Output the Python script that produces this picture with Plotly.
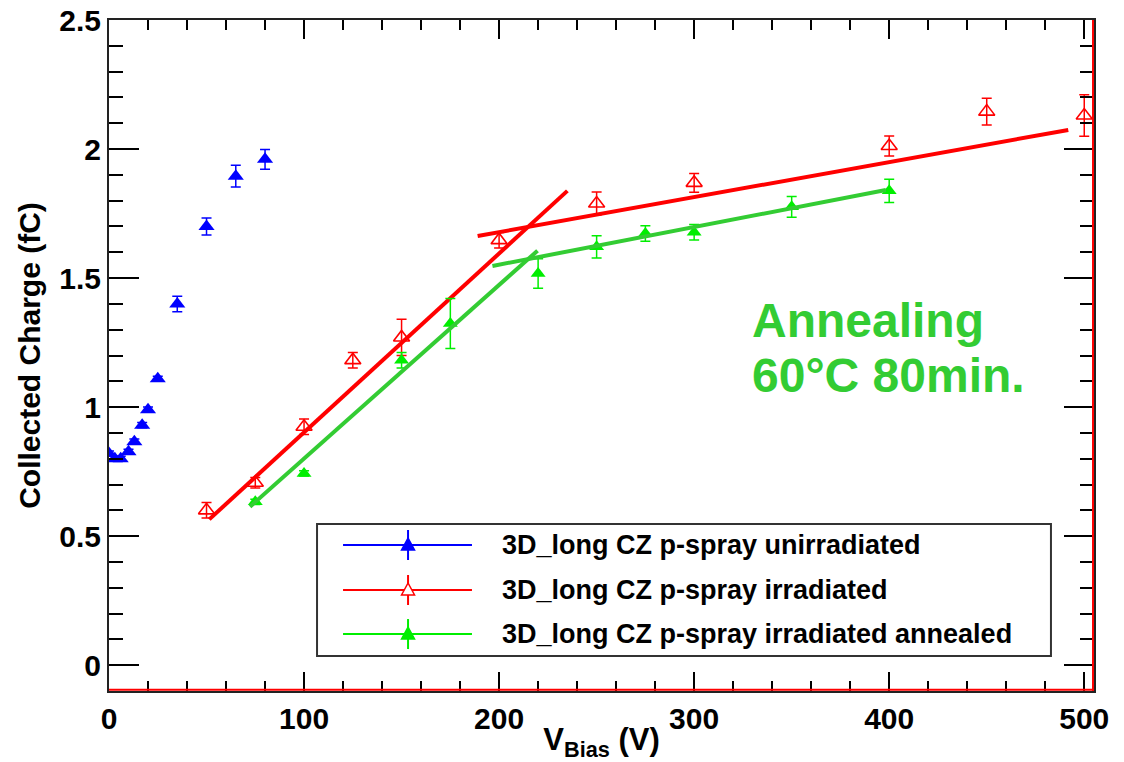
import plotly.graph_objects as go

# ---------------- data ----------------
# unirradiated (blue, filled triangles)
v_unirr = [0, 3, 6, 10, 13, 17, 20, 25, 35, 50, 65, 80]
q_unirr = [0.82, 0.80, 0.80, 0.827, 0.866, 0.93, 0.99, 1.11, 1.40, 1.70, 1.895, 1.96]
e_unirr = [0.01, 0.01, 0.01, 0.01, 0.01, 0.01, 0.01, 0.01, 0.03, 0.033, 0.042, 0.038]

# irradiated (red, open triangles)
v_irr = [50, 75, 100, 125, 150, 200, 250, 300, 400, 450, 500]
q_irr = [0.60, 0.707, 0.924, 1.182, 1.27, 1.647, 1.789, 1.869, 2.012, 2.145, 2.13]
e_irr = [0.03, 0.02, 0.03, 0.03, 0.07, 0.03, 0.045, 0.036, 0.039, 0.052, 0.08]

# irradiated annealed (green, filled triangles)
v_ann = [75, 100, 150, 175, 220, 250, 275, 300, 350, 400]
q_ann = [0.633, 0.743, 1.182, 1.324, 1.518, 1.621, 1.673, 1.678, 1.776, 1.838]
e_ann = [0.01, 0.01, 0.03, 0.097, 0.057, 0.043, 0.03, 0.03, 0.04, 0.045]

# linear fits (end points)
fit_irr_steep_v = [51.4, 235.0]
fit_irr_steep_q = [0.565, 1.838]
fit_irr_flat_v = [189.0, 491.8]
fit_irr_flat_q = [1.663, 2.074]
fit_ann_steep_v = [72.3, 219.7]
fit_ann_steep_q = [0.614, 1.606]
fit_ann_flat_v = [196.6, 398.3]
fit_ann_flat_q = [1.547, 1.841]

legend_labels = [
    "3D_long CZ p-spray unirradiated",
    "3D_long CZ p-spray irradiated",
    "3D_long CZ p-spray irradiated annealed",
]

BLUE = "#0000ff"
RED = "#ff0000"
GREEN_PT = "#00ee00"
GREEN_FIT = "#33cc33"
FONT = "Liberation Sans"

fig = go.Figure()

fig.add_trace(go.Scatter(
    x=v_unirr, y=q_unirr, mode="markers",
    marker=dict(symbol="triangle-up", size=14, color=BLUE),
    error_y=dict(type="data", array=e_unirr, color=BLUE, thickness=1.5, width=5),
    showlegend=False))

fig.add_trace(go.Scatter(
    x=v_irr, y=q_irr, mode="markers",
    marker=dict(symbol="triangle-up-open", size=14, color=RED, line=dict(width=1.6, color=RED)),
    error_y=dict(type="data", array=e_irr, color=RED, thickness=1.5, width=5),
    showlegend=False))

for fv, fq in [(fit_irr_steep_v, fit_irr_steep_q), (fit_irr_flat_v, fit_irr_flat_q)]:
    fig.add_trace(go.Scatter(x=fv, y=fq, mode="lines",
                             line=dict(color=RED, width=4), showlegend=False))

fig.add_trace(go.Scatter(
    x=v_ann, y=q_ann, mode="markers",
    marker=dict(symbol="triangle-up", size=13, color=GREEN_PT),
    error_y=dict(type="data", array=e_ann, color=GREEN_PT, thickness=1.5, width=5),
    showlegend=False))

for fv, fq in [(fit_ann_steep_v, fit_ann_steep_q), (fit_ann_flat_v, fit_ann_flat_q)]:
    fig.add_trace(go.Scatter(x=fv, y=fq, mode="lines",
                             line=dict(color=GREEN_FIT, width=4), showlegend=False))

# ---------------- custom legend box ----------------
W_PLOT = 985.0
H_PLOT = 671.0
shapes = []
annotations = []
shapes.append(dict(type="rect", xref="paper", yref="paper",
                   x0=0.2112, x1=0.9563, y0=0.0522, y1=0.2489,
                   line=dict(color="#333333", width=2), fillcolor="white", layer="above"))
entry_y = [0.2176, 0.1505, 0.0849]
entry_col = [BLUE, RED, GREEN_PT]
entry_open = [False, True, False]
lx0, lx1, mx = 0.2376, 0.3685, 0.3036
dx = 6.5 / W_PLOT
dyu = 7.0 / H_PLOT
dyd = 5.0 / H_PLOT
for yy, col, op, lab in zip(entry_y, entry_col, entry_open, legend_labels):
    shapes.append(dict(type="line", xref="paper", yref="paper", x0=lx0, x1=lx1, y0=yy, y1=yy,
                       line=dict(color=col, width=2), layer="above"))
    shapes.append(dict(type="line", xref="paper", yref="paper", x0=mx, x1=mx,
                       y0=yy - 15 / H_PLOT, y1=yy + 15 / H_PLOT,
                       line=dict(color=col, width=2), layer="above"))
    path = "M {a},{b} L {c},{b} L {m},{t} Z".format(a=mx - dx, c=mx + dx, b=yy - dyd, m=mx, t=yy + dyu)
    shapes.append(dict(type="path", xref="paper", yref="paper", path=path,
                       fillcolor=("white" if op else col),
                       line=dict(color=col, width=1.5), layer="above"))
    annotations.append(dict(xref="paper", yref="paper", x=0.397, y=yy, text=lab,
                            showarrow=False, xanchor="left", yanchor="middle",
                            font=dict(family=FONT, size=27, color="black", weight="bold")))

# red frame lines (bottom and right)
shapes.append(dict(type="line", xref="paper", yref="paper", x0=0, x1=1, y0=0.002, y1=0.002,
                   line=dict(color=RED, width=2), layer="above"))
shapes.append(dict(type="line", xref="paper", yref="paper", x0=0.999, x1=0.999, y0=0, y1=1,
                   line=dict(color=RED, width=2), layer="above"))

# annealing text
annotations.append(dict(xref="paper", yref="paper", x=0.6508, y=0.5523, text="Annealing",
                        showarrow=False, xanchor="left", yanchor="middle",
                        font=dict(family=FONT, size=48, color=GREEN_FIT, weight="bold")))
annotations.append(dict(xref="paper", yref="paper", x=0.6508, y=0.4700, text="60°C 80min.",
                        showarrow=False, xanchor="left", yanchor="middle",
                        font=dict(family=FONT, size=48, color=GREEN_FIT, weight="bold")))

fig.update_layout(
    width=1124, height=762,
    margin=dict(l=109, r=30, t=20, b=71),
    paper_bgcolor="white", plot_bgcolor="white",
    shapes=shapes, annotations=annotations,
    showlegend=False,
    font=dict(family=FONT, color="black"),
)

fig.update_xaxes(
    range=[0, 505], tick0=0, dtick=100, automargin=False,
    ticks="inside", ticklen=19, tickwidth=1.5, tickcolor="black",
    minor=dict(dtick=20, ticks="inside", ticklen=10, tickwidth=1.5, tickcolor="black"),
    showline=True, linecolor="#222222", linewidth=2, mirror="allticks",
    showgrid=False, zeroline=False,
    tickfont=dict(family=FONT, size=30, weight="bold"),
    title=dict(text="V<sub>Bias</sub> (V)", font=dict(family=FONT, size=31, weight="bold"), standoff=7),
)
fig.update_yaxes(
    range=[-0.1, 2.5], tick0=0, dtick=0.5, automargin=False,
    ticks="inside", ticklen=30, tickwidth=1.5, tickcolor="black",
    minor=dict(dtick=0.1, ticks="inside", ticklen=14, tickwidth=1.5, tickcolor="black"),
    showline=True, linecolor="#222222", linewidth=2, mirror="allticks",
    showgrid=False, zeroline=False,
    tickfont=dict(family=FONT, size=30, weight="bold"),
    title=dict(text="Collected Charge (fC)", font=dict(family=FONT, size=30, weight="bold"), standoff=10),
)

fig.write_html("out.html")
